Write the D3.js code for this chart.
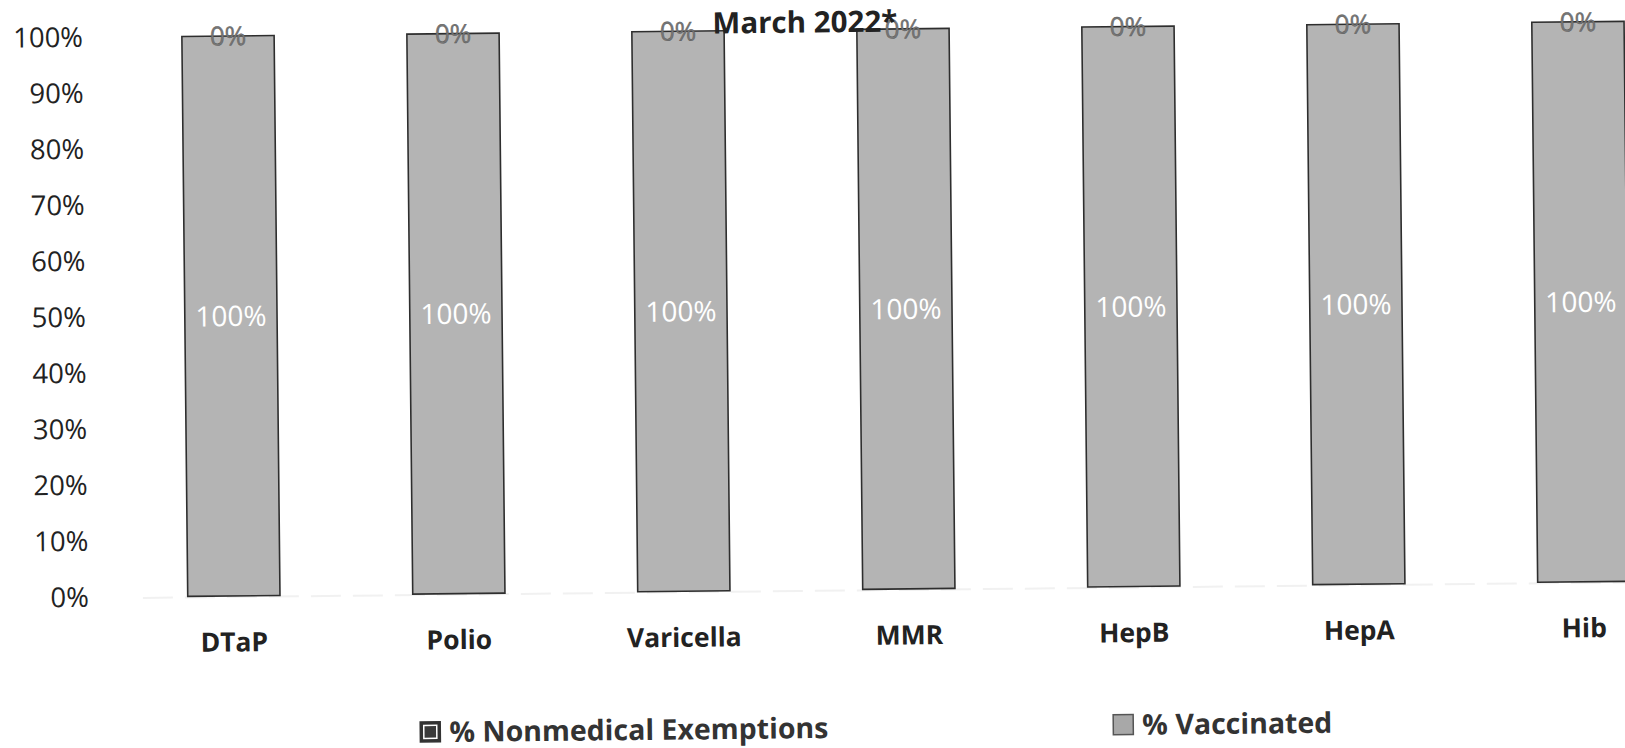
<!DOCTYPE html>
<html><head><meta charset="utf-8">
<script src="https://cdn.jsdelivr.net/npm/d3@7"></script>
<style>
html,body{margin:0;padding:0;background:#fff;}
svg{display:block;}
text{font-family:"Open Sans",sans-serif;}
</style>
</head><body>
<svg id="chart" width="1625" height="748"></svg>
<script>
const categories = ["DTaP","Polio","Varicella","MMR","HepB","HepA","Hib"];
const vaccinated = [100,100,100,100,100,100,100];
const nonmedical = [0,0,0,0,0,0,0];
const yTicks = [0,10,20,30,40,50,60,70,80,90,100];
const seriesNames = ["% Nonmedical Exemptions","% Vaccinated"];
const title = "March 2022*";

const svg = d3.select("#chart");
const g = svg.append("g").attr("transform","rotate(-0.6,800,320)");

const x = d3.scaleBand().domain(categories).range([118.5, 118.5+7*225]).paddingInner(0.59).paddingOuter(0.295);
const y = d3.scaleLinear().domain([0,100]).range([590,30]);

// faint baseline
g.append("line").attr("x1",140).attr("x2",1625).attr("y1",y(0)+1).attr("y2",y(0)+1)
  .attr("stroke","#f1f1f1").attr("stroke-width",2).attr("stroke-dasharray","30,12");

// y axis
const ya = g.append("g").attr("transform","translate(86,0)")
  .call(d3.axisLeft(y).tickValues(yTicks).tickSize(0).tickPadding(0).tickFormat(d=>d+"%"));
ya.select(".domain").remove();
ya.selectAll("text").attr("font-family","'Open Sans',sans-serif").attr("font-size",27.5).attr("fill","#222");

const data = categories.map((c,i)=>({c, v:vaccinated[i], n:nonmedical[i]}));

// vaccinated bars
g.selectAll("rect.vac").data(data).join("rect").attr("class","vac")
  .attr("x",d=>x(d.c)).attr("width",x.bandwidth())
  .attr("y",d=>y(d.v)).attr("height",d=>y(0)-y(d.v))
  .attr("fill","#b4b4b4").attr("stroke","#2e2e2e").attr("stroke-width",1.6);

// nonmedical bars (stacked on top)
g.selectAll("rect.nme").data(data).join("rect").attr("class","nme")
  .attr("x",d=>x(d.c)).attr("width",x.bandwidth())
  .attr("y",d=>y(d.v+d.n)).attr("height",d=>y(d.v)-y(d.v+d.n))
  .attr("fill","#333");

// labels 100%
g.selectAll("text.vl").data(data).join("text").attr("class","vl")
  .attr("x",d=>x(d.c)+x.bandwidth()/2).attr("y",d=>y(d.v/2)).attr("dy","0.36em")
  .attr("text-anchor","middle").attr("font-size",28).attr("fill","#fff")
  .text(d=>d.v+"%");

// labels 0%
g.selectAll("text.nl").data(data).join("text").attr("class","nl")
  .attr("x",d=>x(d.c)+x.bandwidth()/2).attr("y",d=>y(d.v+d.n/2)).attr("dy","0.36em")
  .attr("text-anchor","middle").attr("font-size",26).attr("fill","#777")
  .attr("stroke","#555").attr("stroke-width",0.4)
  .text(d=>d.n+"%");

// x axis labels
const xa = g.append("g").attr("transform",`translate(0,${y(0)})`)
  .call(d3.axisBottom(x).tickSize(0).tickPadding(46));
xa.select(".domain").remove();
xa.selectAll("text").attr("font-family","'Open Sans',sans-serif").attr("font-size",26.5)
  .attr("font-weight","bold").attr("fill","#222").attr("y",46).attr("dy","0.36em");

// title
g.append("text").attr("x",808).attr("y",22).attr("dy","0.36em").attr("text-anchor","middle")
  .attr("font-size",29.5).attr("font-weight","bold").attr("fill","#222").text(title);

// legend
const leg = [{name:seriesNames[0], x:416, kind:"n"},{name:seriesNames[1], x:1109, kind:"v"}];
const lg = g.selectAll("g.leg").data(leg).join("g").attr("class","leg")
  .attr("transform",d=>`translate(${d.x},728)`);
lg.append("rect").attr("x",0).attr("y",-10).attr("width",20).attr("height",20)
  .attr("fill",d=>d.kind==="n"?"#333":"#a8a8a8").attr("stroke",d=>d.kind==="n"?"#333":"#555").attr("stroke-width",1.5);
lg.filter(d=>d.kind==="n").append("rect").attr("x",3.5).attr("y",-6.5).attr("width",13).attr("height",13)
  .attr("fill","#3a3a3a").attr("stroke","#fff").attr("stroke-width",1.5);
lg.append("text").attr("x",29).attr("y",0).attr("dy","0.36em").attr("font-size",28.5)
  .attr("font-weight","bold").attr("fill","#333").text(d=>d.name);
</script>
</body></html>
